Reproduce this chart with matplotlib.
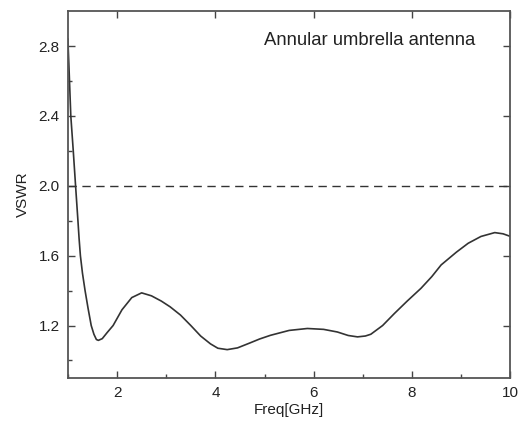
import numpy as np
import matplotlib.pyplot as plt
from matplotlib.ticker import MultipleLocator

plt.rcParams['font.family'] = ['Liberation Sans', 'DejaVu Sans']

# --- Data ---
freq = [1.0, 1.02, 1.06, 1.11, 1.157, 1.205, 1.228, 1.255, 1.297, 1.35,
        1.41, 1.475, 1.53, 1.58, 1.62, 1.7, 1.8, 1.92, 2.1, 2.3, 2.5, 2.7,
        2.9, 3.08, 3.29, 3.5, 3.7, 3.9, 4.05, 4.24, 4.45, 4.7, 4.9, 5.12,
        5.5, 5.87, 6.2, 6.48, 6.7, 6.89, 7.05, 7.16, 7.4, 7.64, 7.9, 8.18,
        8.4, 8.59, 8.9, 9.14, 9.4, 9.68, 9.85, 10.0]
vswr = [2.84, 2.7, 2.4, 2.2, 2.0, 1.8, 1.7, 1.6, 1.5, 1.4,
        1.3, 1.2, 1.15, 1.12, 1.115, 1.125, 1.16, 1.2, 1.29, 1.36, 1.387,
        1.37, 1.34, 1.307, 1.26, 1.2, 1.14, 1.095, 1.07, 1.062, 1.072, 1.10,
        1.123, 1.144, 1.172, 1.183, 1.178, 1.163, 1.143, 1.135, 1.14, 1.15,
        1.20, 1.269, 1.34, 1.413, 1.48, 1.547, 1.62, 1.671, 1.71, 1.732,
        1.725, 1.71]
ref_freq = [1.0, 10.0]
ref_vswr = [2.0, 2.0]

fig = plt.figure(figsize=(5.26, 4.28), dpi=100)
ax = fig.add_axes([0.129, 0.117, 0.8415, 0.857])

ax.plot(freq, vswr, color='#333333', lw=1.2)
ax.plot(ref_freq, ref_vswr, color='#333333', lw=1.0, ls=(0, (6, 4)))

ax.set_xlim(1, 10)
ax.set_ylim(0.9, 3.0)
ax.xaxis.set_major_locator(MultipleLocator(2))
ax.xaxis.set_minor_locator(MultipleLocator(1))
ax.set_yticks([1.2, 1.6, 2.0, 2.4, 2.8])
ax.set_yticks([1.0, 1.4, 1.8, 2.2, 2.6], minor=True)

ax.tick_params(which='major', direction='in', length=5, width=1, color='#444444',
               labelsize=11, labelcolor='#222222', top=True, right=True, pad=6)
ax.tick_params(which='minor', direction='in', length=3, width=1, color='#444444')
for s in ax.spines.values():
    s.set_color('#555555')
    s.set_linewidth(1.3)

ax.set_xlabel('Freq[GHz]', fontsize=11, labelpad=2, color='#222222')
ax.set_ylabel('VSWR', fontsize=11, labelpad=6, color='#222222')
ax.text(0.92, 0.921, 'Annular umbrella antenna', transform=ax.transAxes,
        ha='right', va='center', fontsize=13.3, color='#222222')

fig.savefig('out.png', dpi=100)
